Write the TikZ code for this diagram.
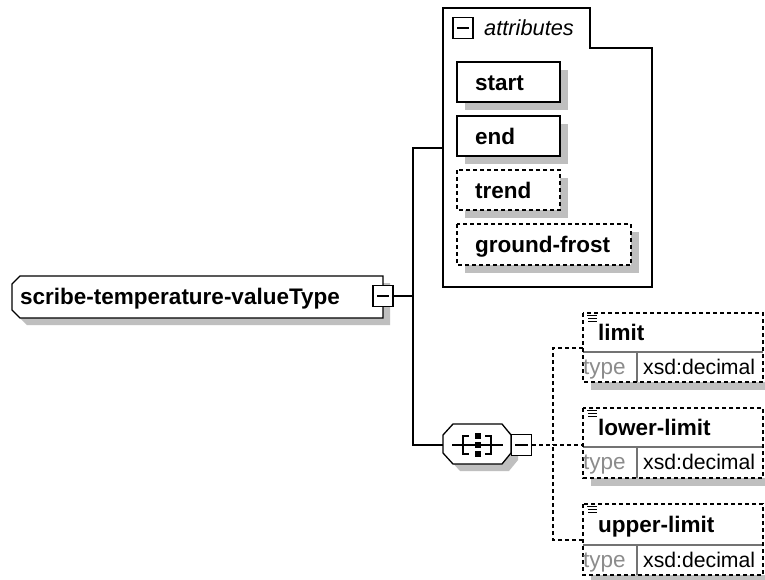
\documentclass[tikz,border=0pt]{standalone}
\usepackage{fontspec}
\setmainfont{Liberation Sans}
\begin{document}
\begin{tikzpicture}[x=1pt,y=-1pt,
  ln/.style={line width=1.3pt,black},
  dln/.style={line width=1.3pt,black,dash pattern=on 4pt off 3pt},
  shd/.style={fill=black!25,draw=none},
  txt/.style={inner sep=0pt,anchor=west,text height=16pt,text depth=4.5pt,yshift=-1.5pt},
  lbl/.style={txt,font=\fontsize{22.5}{26}\selectfont\bfseries},
  rlbl/.style={txt,font=\fontsize{21.2}{24}\selectfont},
  glbl/.style={txt,font=\fontsize{22.5}{24}\selectfont,text=black!45},
  ilbl/.style={txt,font=\fontsize{21.8}{24}\selectfont\itshape},
  minusbox/.style={draw,line width=1.1pt,fill=white,minimum width=20pt,minimum height=21pt,inner sep=0pt}
]
\useasboundingbox (0,0) rectangle (765,580);
\clip (0,0) rectangle (765,580);
\fill[white] (0,0) rectangle (765,580);

% ---------- main node ----------
\fill[shd] (27,283) -- (390,283) -- (390,325) -- (27,325) -- (19,317) -- (19,291) -- cycle;
\draw[ln,fill=white] (20,276) -- (383,276) -- (383,318) -- (20,318) -- (12,310) -- (12,284) -- cycle;
\node[lbl] (main) at (20,297.5) {scribe-temperature-valueType};
\node[minusbox] (mminus) at (383,296) {};
\draw[line width=1.1pt] (377,296) -- (389,296);

% ---------- attributes group ----------
\draw[ln,fill=white] (443,8) -- (590,8) -- (590,48) -- (652,48) -- (652,287) -- (443,287) -- cycle;
\node[minusbox] (aminus) at (463,28) {};
\draw[line width=1.1pt] (457,28) -- (469,28);
\node[ilbl] (attrlbl) at (484,28) {attributes};

\fill[shd] (465,70) rectangle (568,110);
\draw[ln,fill=white] (457,62) rectangle (560,102);
\node[lbl] (start) at (475,83) {start};

\fill[shd] (465,124) rectangle (568,164);
\draw[ln,fill=white] (457,116) rectangle (560,156);
\node[lbl] (end) at (475,137) {end};

\fill[shd] (465,178) rectangle (568,218);
\draw[dln,fill=white] (457,170) rectangle (560,210);
\node[lbl] (trend) at (475,191) {trend};

\fill[shd] (465,232) rectangle (639,273);
\draw[dln,fill=white] (457,224) rectangle (631,265);
\node[lbl] (gfrost) at (475,245.5) {ground-frost};

\coordinate (attrin) at (443,148);

% ---------- sequence compositor ----------
\fill[shd] (460,431) -- (509,431) -- (518,442) -- (518,460) -- (509,471) -- (460,471) -- (450,460) -- (450,442) -- cycle;
\draw[ln,fill=white] (453,424) -- (502,424) -- (511,435) -- (511,453) -- (502,464) -- (453,464) -- (443,453) -- (443,435) -- cycle;
\coordinate (seqin) at (443,445);
\draw[line width=1.1pt] (452,445) -- (503,445);
\draw[line width=1.1pt] (469,436) -- (463,436) -- (463,454) -- (469,454);
\draw[line width=1.1pt] (485,436) -- (491,436) -- (491,454) -- (485,454);
\fill (475,433) rectangle (481,439);
\fill (475,442) rectangle (481,448);
\fill (475,451) rectangle (481,457);
\node[minusbox] (sminus) at (521.5,445) {};
\draw[line width=1.1pt] (515,445) -- (528,445);

% ---------- elements ----------
\foreach \nm/\txt/\t/\d/\b/\cy in {el1/limit/313/352/382/348, el2/lower-limit/408/447/478/445, el3/upper-limit/504/545/575/540}{
  \fill[shd] (591,\b) rectangle (771,\b+8);
  \fill[white] (583,\t) rectangle (763,\b);
  \draw[black!55,line width=1.1pt] (583,\d) -- (763,\d);
  \draw[black!55,line width=1.1pt] (637,\d) -- (637,\b);
  \draw[dln] (583,\t) rectangle (763,\b);
  \draw[line width=1.1pt] (587,\t+2.5) -- (597,\t+2.5);
  \draw[line width=1.1pt] (588,\t+5.5) -- (597,\t+5.5);
  \draw[line width=1.1pt] (588,\t+8.5) -- (597,\t+8.5);
  \node[lbl] (\nm) at (598,{(\t+\d)/2+0.5}) {\txt};
  \node[glbl] (\nm t) at (583,{(\d+\b)/2}) {type};
  \node[rlbl] (\nm v) at (643,{(\d+\b)/2}) {xsd:decimal};
  \coordinate (\nm in) at (583,\cy);
}

% ---------- connectors ----------
\coordinate (trunk) at (413,296);
\coordinate (ttop) at (413,148);
\coordinate (tbot) at (413,445);
\draw[ln] (mminus.east) -- (trunk);
\draw[ln] (attrin) -- (ttop) -- (tbot) -- (seqin);

\coordinate (dtr) at (553,445);
\draw[dln] (sminus.east) -- (dtr);
\draw[dln] (el1in) -| (dtr);
\draw[dln] (el3in) -| (dtr);
\draw[dln] (dtr) -- (el2in);
\end{tikzpicture}
\end{document}
